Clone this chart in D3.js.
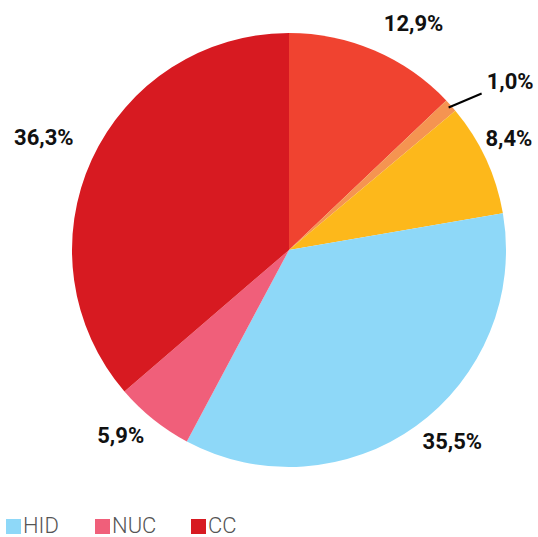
<!DOCTYPE html>
<html>
<head>
<meta charset="utf-8">
<script src="https://cdn.jsdelivr.net/npm/d3@7/dist/d3.min.js"></script>
<style>
    body { margin: 0; background: #fff; }
    .label_txt { font-family: Roboto, sans-serif; font-weight: 700; font-size: 22px; fill: #111; }
    .legend_txt { font-family: Roboto, sans-serif; font-weight: 300; font-size: 22px; fill: #555; }
</style>
</head>
<body>
<div id="chart"></div>
<script>
// slice values, clockwise from 12 o'clock
var sliceNames = ["A", "B", "C", "HID", "NUC", "CC"];
var sliceValues = [12.9, 1.0, 8.4, 35.5, 5.9, 36.3];
var sliceColors = ["#F04330", "#F59451", "#FDB81B", "#8ED8F8", "#F05F7A", "#D71A21"];
var legendNames = ["HID", "NUC", "CC"];

var cfg = {
    w: 538,
    h: 537,
    cx: 289,
    cy: 250,
    r: 217,
    labelR: 250
};

// label tweaks (px) per slice
var nudge = [[26, 3], [0, 0], [-7, -7], [17, -12], [-12, -10], [-18, -9]];

var svg = d3.select("#chart").append("svg")
    .attr("width", cfg.w)
    .attr("height", cfg.h);

var g = svg.append("g")
    .attr("transform", "translate(" + cfg.cx + "," + cfg.cy + ")");

var data = sliceNames.map(function (n, i) {
    return { name: n, value: sliceValues[i], color: sliceColors[i] };
});

var pie = d3.pie()
    .sort(null)
    .value(function (d) { return d.value; });

var arc = d3.arc().innerRadius(0).outerRadius(cfg.r);
var labelArc = d3.arc().innerRadius(cfg.labelR).outerRadius(cfg.labelR);

var arcs = pie(data);

g.selectAll(".slice")
    .data(arcs)
    .enter()
    .append("path")
    .classed("slice", true)
    .attr("d", arc)
    .attr("fill", function (d) { return d.data.color; });

var fmt = function (v) { return d3.format(".1f")(v).replace(".", ",") + "%"; };

// labels
arcs.forEach(function (d, i) {
    if (i === 1) {
        // small slice: leader line
        var mid = (d.startAngle + d.endAngle) / 2;
        var x0 = Math.sin(mid) * (cfg.r - 3), y0 = -Math.cos(mid) * (cfg.r - 3);
        var x1 = x0 + 33, y1 = y0 - 14;
        g.append("line")
            .attr("x1", x0).attr("y1", y0)
            .attr("x2", x1).attr("y2", y1)
            .attr("stroke", "#000")
            .attr("stroke-width", 2);
        g.append("text")
            .classed("label_txt", true)
            .attr("x", x1 + 5)
            .attr("y", y1 - 12)
            .attr("dy", "0.36em")
            .text(fmt(d.data.value));
        return;
    }
    var c = labelArc.centroid(d);
    g.append("text")
        .classed("label_txt", true)
        .attr("text-anchor", "middle")
        .attr("x", c[0] + nudge[i][0])
        .attr("y", c[1] + nudge[i][1])
        .attr("dy", "0.36em")
        .text(fmt(d.data.value));
});

// legend
var legendX = d3.scaleOrdinal()
    .domain(legendNames)
    .range([6, 95, 191]);

var leg = svg.selectAll(".legend")
    .data(legendNames)
    .enter()
    .append("g")
    .classed("legend", true)
    .attr("transform", function (d) { return "translate(" + legendX(d) + ",519)"; });

leg.append("rect")
    .attr("width", 15)
    .attr("height", 15)
    .attr("fill", function (d) { return sliceColors[sliceNames.indexOf(d)]; });

leg.append("text")
    .classed("legend_txt", true)
    .attr("x", 17)
    .attr("y", 14)
    .text(function (d) { return d; });
</script>
</body>
</html>
